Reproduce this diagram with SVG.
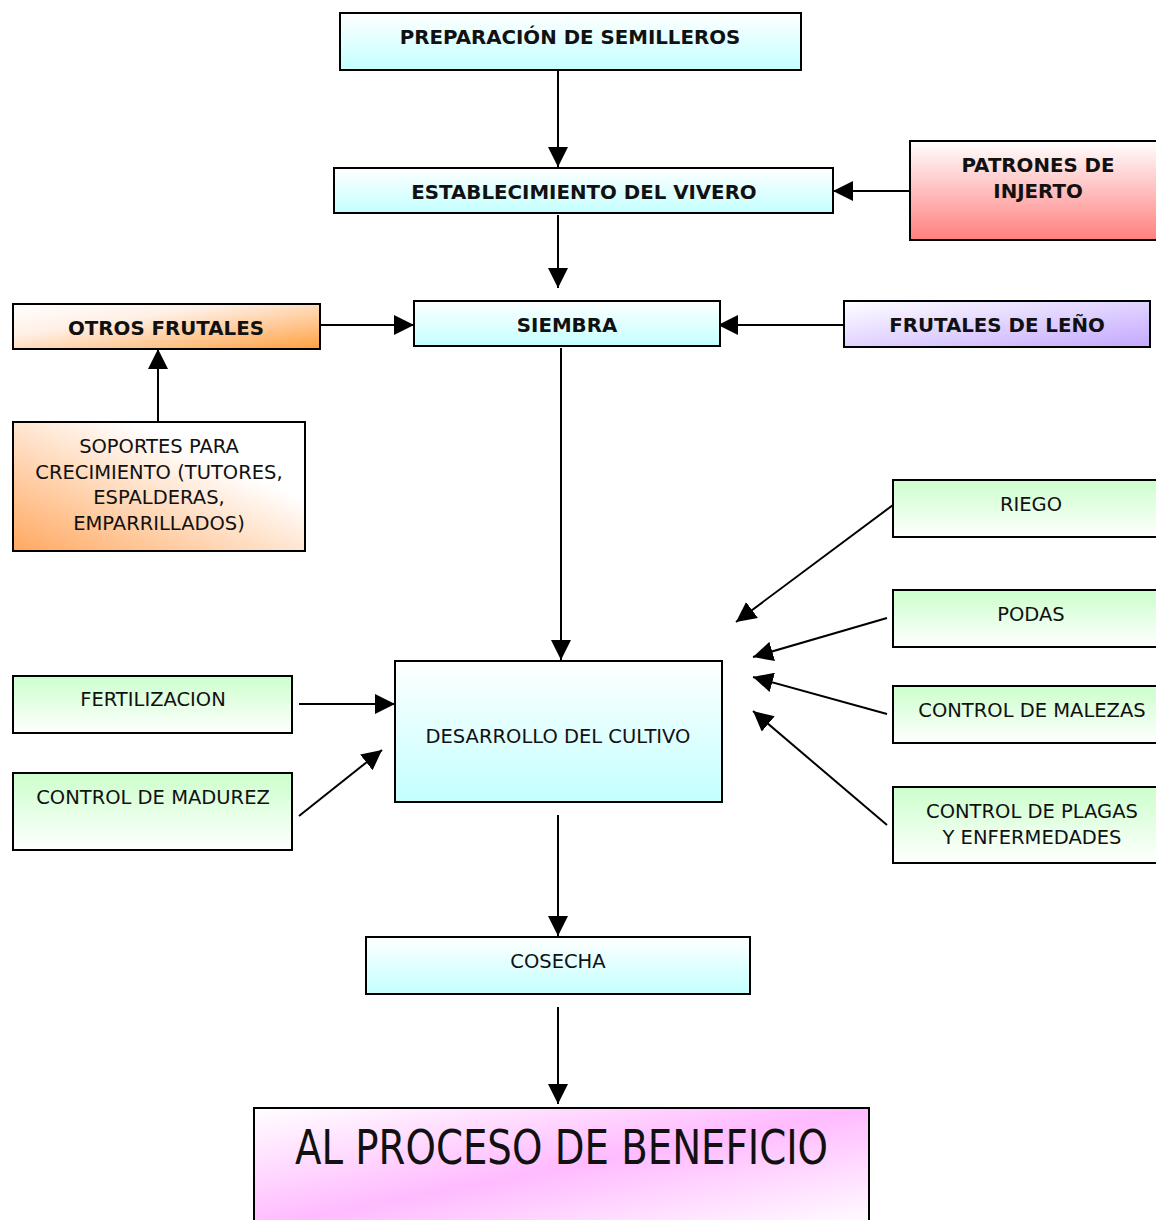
<svg xmlns="http://www.w3.org/2000/svg" width="1156" height="1220" viewBox="0 0 1156 1220">
<style>
.box{stroke:#000;stroke-width:2}
.b{font-family:"DejaVu Sans",Verdana,sans-serif;font-weight:bold;font-size:19.8px;fill:#111;text-anchor:middle}
.n{font-family:"DejaVu Sans",Verdana,sans-serif;font-size:19.5px;fill:#111;text-anchor:middle}
.c{stroke:#000;stroke-width:2;fill:none;marker-end:url(#ah)}
</style>
<defs>
<marker id="ah" markerUnits="userSpaceOnUse" markerWidth="22" markerHeight="20" refX="20" refY="10" orient="auto"><path d="M0,0 L20,10 L0,20 Z" fill="#000"/></marker>
<linearGradient id="gCyan" x1="0" y1="0" x2="0" y2="1"><stop offset="0" stop-color="#ffffff"/><stop offset="1" stop-color="#c4ffff"/></linearGradient>
<linearGradient id="gRed" x1="0" y1="0" x2="0" y2="1"><stop offset="0" stop-color="#ffffff"/><stop offset="1" stop-color="#ff7f7f"/></linearGradient>
<linearGradient id="gOrange" x1="0" y1="0" x2="1" y2="1"><stop offset="0" stop-color="#ffffff"/><stop offset="0.35" stop-color="#fff0e6"/><stop offset="1" stop-color="#ffa040"/></linearGradient>
<linearGradient id="gOrange2" x1="0" y1="1" x2="1" y2="0"><stop offset="0" stop-color="#ffa860"/><stop offset="0.7" stop-color="#ffffff"/><stop offset="1" stop-color="#ffffff"/></linearGradient>
<linearGradient id="gPurple" x1="0" y1="0" x2="1" y2="1"><stop offset="0" stop-color="#ffffff"/><stop offset="1" stop-color="#c4a8ff"/></linearGradient>
<linearGradient id="gGreen" x1="0" y1="0" x2="0" y2="1"><stop offset="0" stop-color="#ccffcc"/><stop offset="1" stop-color="#ffffff"/></linearGradient>
<linearGradient id="gPink" x1="0" y1="0" x2="1" y2="1"><stop offset="0" stop-color="#ffffff"/><stop offset="0.5" stop-color="#ffbbff"/><stop offset="1" stop-color="#ffffff"/></linearGradient>
</defs>

<g id="connectors">
<line class="c" x1="558" y1="70" x2="558" y2="167"/>
<line class="c" x1="558" y1="215" x2="558" y2="288"/>
<line class="c" x1="910" y1="191" x2="833" y2="191"/>
<line class="c" x1="320" y1="325" x2="414" y2="325"/>
<line class="c" x1="844" y1="325" x2="718" y2="325"/>
<line class="c" x1="158" y1="422" x2="158" y2="349"/>
<line class="c" x1="561" y1="348" x2="561" y2="660"/>
<line class="c" x1="893" y1="505" x2="736" y2="622"/>
<line class="c" x1="887" y1="618" x2="753" y2="657"/>
<line class="c" x1="887" y1="714" x2="753" y2="677"/>
<line class="c" x1="887" y1="825" x2="753" y2="711"/>
<line class="c" x1="299" y1="704" x2="395" y2="704"/>
<line class="c" x1="299" y1="816" x2="382" y2="750"/>
<line class="c" x1="558" y1="815" x2="558" y2="936"/>
<line class="c" x1="558" y1="1007" x2="558" y2="1104"/>
</g>

<g id="preparacion"><rect class="box" x="340" y="13" width="461" height="57" fill="url(#gCyan)"/><text class="b" x="570" y="44">PREPARACIÓN DE SEMILLEROS</text></g>
<g id="establecimiento"><rect class="box" x="334" y="168" width="499" height="45" fill="url(#gCyan)"/><text class="b" x="584" y="199">ESTABLECIMIENTO DEL VIVERO</text></g>
<g id="patrones"><rect class="box" x="910" y="141" width="250" height="99" fill="url(#gRed)"/><text class="b" x="1038" y="172">PATRONES DE</text><text class="b" x="1038" y="198">INJERTO</text></g>
<g id="otros"><rect class="box" x="13" y="304" width="307" height="45" fill="url(#gOrange)"/><text class="b" x="166" y="335">OTROS FRUTALES</text></g>
<g id="siembra"><rect class="box" x="414" y="301" width="306" height="45" fill="url(#gCyan)"/><text class="b" x="567" y="332">SIEMBRA</text></g>
<g id="leno"><rect class="box" x="844" y="301" width="306" height="46" fill="url(#gPurple)"/><text class="b" x="997" y="332">FRUTALES DE LEÑO</text></g>
<g id="soportes"><rect class="box" x="13" y="422" width="292" height="129" fill="url(#gOrange2)"/><text class="n" x="159" y="453">SOPORTES PARA</text><text class="n" x="159" y="479">CRECIMIENTO (TUTORES,</text><text class="n" x="159" y="504">ESPALDERAS,</text><text class="n" x="159" y="530">EMPARRILLADOS)</text></g>
<g id="riego"><rect class="box" x="893" y="480" width="267" height="57" fill="url(#gGreen)"/><text class="n" x="1031" y="511">RIEGO</text></g>
<g id="podas"><rect class="box" x="893" y="590" width="267" height="57" fill="url(#gGreen)"/><text class="n" x="1031" y="621">PODAS</text></g>
<g id="malezas"><rect class="box" x="893" y="686" width="267" height="57" fill="url(#gGreen)"/><text class="n" x="1032" y="717">CONTROL DE MALEZAS</text></g>
<g id="plagas"><rect class="box" x="893" y="787" width="267" height="76" fill="url(#gGreen)"/><text class="n" x="1032" y="818">CONTROL DE PLAGAS</text><text class="n" x="1032" y="844">Y ENFERMEDADES</text></g>
<g id="fertilizacion"><rect class="box" x="13" y="676" width="279" height="57" fill="url(#gGreen)"/><text class="n" x="153" y="706">FERTILIZACION</text></g>
<g id="madurez"><rect class="box" x="13" y="773" width="279" height="77" fill="url(#gGreen)"/><text class="n" x="153" y="804">CONTROL DE MADUREZ</text></g>
<g id="desarrollo"><rect class="box" x="395" y="661" width="327" height="141" fill="url(#gCyan)"/><text class="n" x="558" y="743">DESARROLLO DEL CULTIVO</text></g>
<g id="cosecha"><rect class="box" x="366" y="937" width="384" height="57" fill="url(#gCyan)"/><text class="n" x="558" y="968">COSECHA</text></g>
<g id="beneficio"><rect class="box" x="254" y="1108" width="615" height="120" fill="url(#gPink)"/><text class="n" x="561.5" y="1164" style="font-size:48px" textLength="533" lengthAdjust="spacingAndGlyphs">AL PROCESO DE BENEFICIO</text></g>
</svg>
